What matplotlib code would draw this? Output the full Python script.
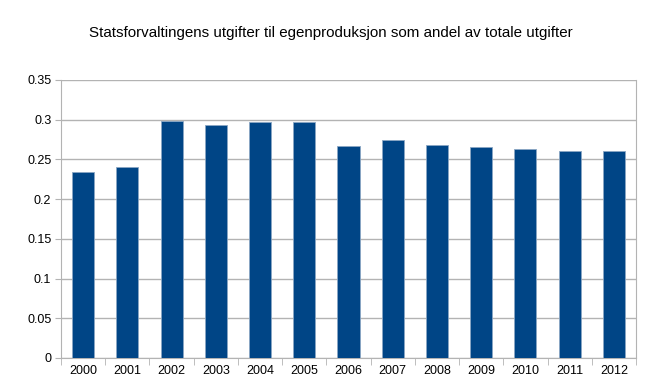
import numpy as np
import matplotlib.pyplot as plt

plt.rcParams['font.family'] = ['Liberation Sans', 'DejaVu Sans']

years = ['2000', '2001', '2002', '2003', '2004', '2005', '2006',
         '2007', '2008', '2009', '2010', '2011', '2012']
andel = [0.234, 0.241, 0.299, 0.2935, 0.297, 0.2968, 0.2674,
         0.2742, 0.2686, 0.2654, 0.2632, 0.2611, 0.2603]
yticks = [0, 0.05, 0.1, 0.15, 0.2, 0.25, 0.3, 0.35]
ytick_labels = ['0', '0.05', '0.1', '0.15', '0.2', '0.25', '0.3', '0.35']

grey = '#b3b3b3'
fig = plt.figure(figsize=(6.62, 3.91), dpi=100)
ax = fig.add_axes([61 / 662, 1 - 358 / 391, 575 / 662, 278 / 391])

x = np.arange(len(years))
ax.bar(x, andel, width=0.5, color='#004586', edgecolor='#8aa6c4', linewidth=0.6, zorder=3)

ax.set_xlim(-0.5, len(years) - 0.5)
ax.set_ylim(0, 0.35)
ax.set_yticks(yticks)
ax.set_yticklabels(ytick_labels)
ax.set_xticks(x)
ax.set_xticklabels(years)
ax.set_xticks(np.arange(-0.5, len(years)), minor=True)
ax.tick_params(axis='x', which='major', length=0, labelsize=9, pad=5)
ax.tick_params(axis='x', which='minor', length=5, color=grey, direction='out')
ax.tick_params(axis='y', length=4, color=grey, labelsize=9, pad=3)

ax.grid(axis='y', color=grey, linewidth=1, zorder=0)
for s in ['left', 'bottom', 'right']:
    ax.spines[s].set_color(grey)
ax.spines['top'].set_visible(False)

fig.text(0.5, 1 - 33 / 391, 'Statsforvaltingens utgifter til egenproduksjon som andel av totale utgifter',
         ha='center', va='center', fontsize=10.9)

fig.savefig('out.png', dpi=100)
